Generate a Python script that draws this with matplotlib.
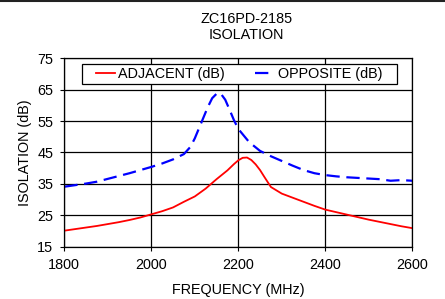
import matplotlib
matplotlib.use("Agg")
import matplotlib.pyplot as plt
from matplotlib.lines import Line2D
from matplotlib.patches import Rectangle

plt.rcParams['font.family'] = ['Liberation Sans', 'DejaVu Sans']

# Frequenz (MHz)
freq_adj = [1800, 1825, 1850, 1875, 1900, 1925, 1950, 1975, 2000, 2025, 2050,
            2075, 2100, 2125, 2150, 2175, 2190, 2200, 2210, 2220, 2230, 2240,
            2250, 2260, 2275, 2300, 2325, 2350, 2375, 2400, 2425, 2450, 2475,
            2500, 2525, 2550, 2575, 2600]
adjacent = [20.1, 20.6, 21.1, 21.6, 22.2, 22.8, 23.5, 24.3, 25.3, 26.3, 27.5,
            29.3, 31.0, 33.5, 36.5, 39.3, 41.3, 42.5, 43.3, 43.4, 42.6, 41.2,
            39.4, 37.2, 34.0, 31.9, 30.6, 29.3, 28.0, 26.8, 26.0, 25.2, 24.4,
            23.6, 22.9, 22.2, 21.5, 20.9]

freq_opp = [1800, 1825, 1850, 1875, 1900, 1925, 1950, 1975, 2000, 2025, 2050,
            2075, 2090, 2100, 2115, 2130, 2140, 2150, 2155, 2160, 2170, 2180,
            2190, 2200, 2225, 2250, 2275, 2300, 2325, 2350, 2375, 2400, 2425,
            2450, 2475, 2500, 2525, 2550, 2575, 2600]
opposite = [34.1, 34.6, 35.1, 35.7, 36.6, 37.5, 38.4, 39.4, 40.4, 41.5, 42.8,
            44.5, 46.8, 49.5, 54.5, 59.5, 62.3, 63.7, 64.0, 63.7, 61.8, 58.6,
            55.3, 52.5, 48.3, 45.5, 43.8, 42.3, 40.8, 39.4, 38.4, 37.8, 37.4,
            37.1, 36.9, 36.7, 36.5, 36.0, 36.2, 36.0]

xticks = [1800, 2000, 2200, 2400, 2600]
yticks = [15, 25, 35, 45, 55, 65, 75]

fig = plt.figure(figsize=(4.45, 2.99), dpi=100)
ax = fig.add_axes([0.1445, 0.175, 0.782, 0.630])

ax.plot(freq_adj, adjacent, color='#ff0000', lw=1.3, label='ADJACENT (dB)')
ax.plot(freq_opp, opposite, color='#0000ff', lw=1.6, dashes=(6, 3),
        label='OPPOSITE (dB)')

ax.set_xlim(1800, 2600)
ax.set_ylim(15, 75)
ax.set_xticks(xticks)
ax.set_yticks(yticks)
ax.grid(True, color='black', lw=0.9)
ax.tick_params(labelsize=10.4, length=3, pad=5, direction='out', color='black')
for s in ax.spines.values():
    s.set_color('black')
    s.set_linewidth(0.9)

ax.set_xlabel('FREQUENCY (MHz)', fontsize=10.4, labelpad=8)
ax.set_ylabel('ISOLATION (dB)', fontsize=10.4)
fig.text(0.553, 0.911, 'ZC16PD-2185\nISOLATION', ha='center', va='center',
         fontsize=10.4, linespacing=1.2)

# Legendenrahmen
ax.add_patch(Rectangle((0.05, 0.862), 0.905, 0.108, transform=ax.transAxes,
                       facecolor='white', edgecolor='black', lw=0.9, zorder=4))
leg = ax.legend(loc='center', ncol=2, fontsize=10.4, frameon=False,
                bbox_to_anchor=(0.5025, 0.916), handlelength=1.3,
                columnspacing=2.1, handletextpad=0.25, borderpad=0,
                borderaxespad=0)
leg.set_zorder(5)

# Linie am oberen Rand
fig.add_artist(Line2D([0, 1], [0.996, 0.996], color='#222222', lw=1.5,
                      transform=fig.transFigure))

fig.savefig('out.png', dpi=100)
